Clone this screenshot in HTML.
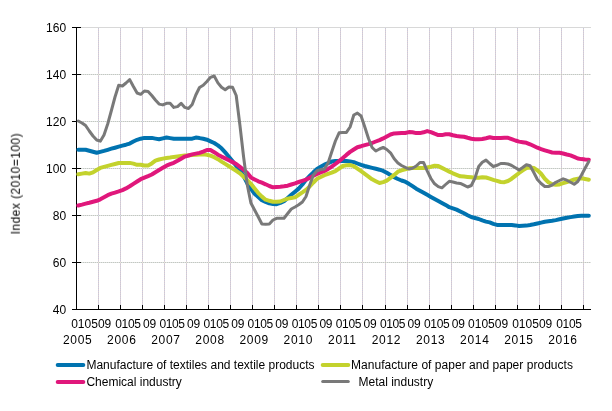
<!DOCTYPE html>
<html lang="en"><head><meta charset="utf-8"><title>Index (2010=100)</title>
<style>html,body{margin:0;padding:0;background:#fff}body{width:612px;height:411px;overflow:hidden}</style></head>
<body>
<svg width="612" height="411" viewBox="0 0 612 411" style="display:block">
<rect width="612" height="411" fill="#fff"/>
<g shape-rendering="crispEdges" fill="none">
<line x1="98.5" y1="28" x2="98.5" y2="305" stroke="#dfd0d0"/>
<line x1="98.5" y1="28" x2="98.5" y2="305" stroke="#c8c8dc" stroke-dasharray="1 1"/>
<line x1="120.5" y1="28" x2="120.5" y2="305" stroke="#dfd0d0"/>
<line x1="120.5" y1="28" x2="120.5" y2="305" stroke="#c8c8dc" stroke-dasharray="1 1"/>
<line x1="142.5" y1="28" x2="142.5" y2="305" stroke="#dfd0d0"/>
<line x1="142.5" y1="28" x2="142.5" y2="305" stroke="#c8c8dc" stroke-dasharray="1 1"/>
<line x1="164.5" y1="28" x2="164.5" y2="305" stroke="#dfd0d0"/>
<line x1="164.5" y1="28" x2="164.5" y2="305" stroke="#c8c8dc" stroke-dasharray="1 1"/>
<line x1="186.5" y1="28" x2="186.5" y2="305" stroke="#dfd0d0"/>
<line x1="186.5" y1="28" x2="186.5" y2="305" stroke="#c8c8dc" stroke-dasharray="1 1"/>
<line x1="208.5" y1="28" x2="208.5" y2="305" stroke="#dfd0d0"/>
<line x1="208.5" y1="28" x2="208.5" y2="305" stroke="#c8c8dc" stroke-dasharray="1 1"/>
<line x1="230.5" y1="28" x2="230.5" y2="305" stroke="#dfd0d0"/>
<line x1="230.5" y1="28" x2="230.5" y2="305" stroke="#c8c8dc" stroke-dasharray="1 1"/>
<line x1="252.5" y1="28" x2="252.5" y2="305" stroke="#dfd0d0"/>
<line x1="252.5" y1="28" x2="252.5" y2="305" stroke="#c8c8dc" stroke-dasharray="1 1"/>
<line x1="274.5" y1="28" x2="274.5" y2="305" stroke="#dfd0d0"/>
<line x1="274.5" y1="28" x2="274.5" y2="305" stroke="#c8c8dc" stroke-dasharray="1 1"/>
<line x1="296.5" y1="28" x2="296.5" y2="305" stroke="#dfd0d0"/>
<line x1="296.5" y1="28" x2="296.5" y2="305" stroke="#c8c8dc" stroke-dasharray="1 1"/>
<line x1="318.5" y1="28" x2="318.5" y2="305" stroke="#dfd0d0"/>
<line x1="318.5" y1="28" x2="318.5" y2="305" stroke="#c8c8dc" stroke-dasharray="1 1"/>
<line x1="340.5" y1="28" x2="340.5" y2="305" stroke="#dfd0d0"/>
<line x1="340.5" y1="28" x2="340.5" y2="305" stroke="#c8c8dc" stroke-dasharray="1 1"/>
<line x1="362.5" y1="28" x2="362.5" y2="305" stroke="#dfd0d0"/>
<line x1="362.5" y1="28" x2="362.5" y2="305" stroke="#c8c8dc" stroke-dasharray="1 1"/>
<line x1="385.5" y1="28" x2="385.5" y2="305" stroke="#dfd0d0"/>
<line x1="385.5" y1="28" x2="385.5" y2="305" stroke="#c8c8dc" stroke-dasharray="1 1"/>
<line x1="407.5" y1="28" x2="407.5" y2="305" stroke="#dfd0d0"/>
<line x1="407.5" y1="28" x2="407.5" y2="305" stroke="#c8c8dc" stroke-dasharray="1 1"/>
<line x1="429.5" y1="28" x2="429.5" y2="305" stroke="#dfd0d0"/>
<line x1="429.5" y1="28" x2="429.5" y2="305" stroke="#c8c8dc" stroke-dasharray="1 1"/>
<line x1="451.5" y1="28" x2="451.5" y2="305" stroke="#dfd0d0"/>
<line x1="451.5" y1="28" x2="451.5" y2="305" stroke="#c8c8dc" stroke-dasharray="1 1"/>
<line x1="473.5" y1="28" x2="473.5" y2="305" stroke="#dfd0d0"/>
<line x1="473.5" y1="28" x2="473.5" y2="305" stroke="#c8c8dc" stroke-dasharray="1 1"/>
<line x1="495.5" y1="28" x2="495.5" y2="305" stroke="#dfd0d0"/>
<line x1="495.5" y1="28" x2="495.5" y2="305" stroke="#c8c8dc" stroke-dasharray="1 1"/>
<line x1="517.5" y1="28" x2="517.5" y2="305" stroke="#dfd0d0"/>
<line x1="517.5" y1="28" x2="517.5" y2="305" stroke="#c8c8dc" stroke-dasharray="1 1"/>
<line x1="539.5" y1="28" x2="539.5" y2="305" stroke="#dfd0d0"/>
<line x1="539.5" y1="28" x2="539.5" y2="305" stroke="#c8c8dc" stroke-dasharray="1 1"/>
<line x1="561.5" y1="28" x2="561.5" y2="305" stroke="#dfd0d0"/>
<line x1="561.5" y1="28" x2="561.5" y2="305" stroke="#c8c8dc" stroke-dasharray="1 1"/>
<line x1="583.5" y1="28" x2="583.5" y2="305" stroke="#dfd0d0"/>
<line x1="583.5" y1="28" x2="583.5" y2="305" stroke="#c8c8dc" stroke-dasharray="1 1"/>
<line x1="77" y1="27.5" x2="591" y2="27.5" stroke="#d8d8d8"/>
<line x1="77" y1="74.5" x2="591" y2="74.5" stroke="#e0e2e0"/>
<line x1="77" y1="74.5" x2="591" y2="74.5" stroke="#c2c8c2" stroke-dasharray="1 1"/>
<line x1="77" y1="121.5" x2="591" y2="121.5" stroke="#e0e2e0"/>
<line x1="77" y1="121.5" x2="591" y2="121.5" stroke="#c2c8c2" stroke-dasharray="1 1"/>
<line x1="77" y1="168.5" x2="591" y2="168.5" stroke="#e0e2e0"/>
<line x1="77" y1="168.5" x2="591" y2="168.5" stroke="#c2c8c2" stroke-dasharray="1 1"/>
<line x1="77" y1="215.5" x2="591" y2="215.5" stroke="#e0e2e0"/>
<line x1="77" y1="215.5" x2="591" y2="215.5" stroke="#c2c8c2" stroke-dasharray="1 1"/>
<line x1="77" y1="262.5" x2="591" y2="262.5" stroke="#e0e2e0"/>
<line x1="77" y1="262.5" x2="591" y2="262.5" stroke="#c2c8c2" stroke-dasharray="1 1"/>
<line x1="76.5" y1="27" x2="76.5" y2="310" stroke="#000"/>
<line x1="72" y1="309.5" x2="591" y2="309.5" stroke="#000"/>
<line x1="72" y1="27.5" x2="81" y2="27.5" stroke="#000"/>
<line x1="72" y1="74.5" x2="81" y2="74.5" stroke="#000"/>
<line x1="72" y1="121.5" x2="81" y2="121.5" stroke="#000"/>
<line x1="72" y1="168.5" x2="81" y2="168.5" stroke="#000"/>
<line x1="72" y1="215.5" x2="81" y2="215.5" stroke="#000"/>
<line x1="72" y1="262.5" x2="81" y2="262.5" stroke="#000"/>
<line x1="98.5" y1="305" x2="98.5" y2="310" stroke="#000"/>
<line x1="120.5" y1="305" x2="120.5" y2="310" stroke="#000"/>
<line x1="142.5" y1="305" x2="142.5" y2="310" stroke="#000"/>
<line x1="164.5" y1="305" x2="164.5" y2="310" stroke="#000"/>
<line x1="186.5" y1="305" x2="186.5" y2="310" stroke="#000"/>
<line x1="208.5" y1="305" x2="208.5" y2="310" stroke="#000"/>
<line x1="230.5" y1="305" x2="230.5" y2="310" stroke="#000"/>
<line x1="252.5" y1="305" x2="252.5" y2="310" stroke="#000"/>
<line x1="274.5" y1="305" x2="274.5" y2="310" stroke="#000"/>
<line x1="296.5" y1="305" x2="296.5" y2="310" stroke="#000"/>
<line x1="318.5" y1="305" x2="318.5" y2="310" stroke="#000"/>
<line x1="340.5" y1="305" x2="340.5" y2="310" stroke="#000"/>
<line x1="362.5" y1="305" x2="362.5" y2="310" stroke="#000"/>
<line x1="385.5" y1="305" x2="385.5" y2="310" stroke="#000"/>
<line x1="407.5" y1="305" x2="407.5" y2="310" stroke="#000"/>
<line x1="429.5" y1="305" x2="429.5" y2="310" stroke="#000"/>
<line x1="451.5" y1="305" x2="451.5" y2="310" stroke="#000"/>
<line x1="473.5" y1="305" x2="473.5" y2="310" stroke="#000"/>
<line x1="495.5" y1="305" x2="495.5" y2="310" stroke="#000"/>
<line x1="517.5" y1="305" x2="517.5" y2="310" stroke="#000"/>
<line x1="539.5" y1="305" x2="539.5" y2="310" stroke="#000"/>
<line x1="561.5" y1="305" x2="561.5" y2="310" stroke="#000"/>
<line x1="583.5" y1="305" x2="583.5" y2="310" stroke="#000"/>
</g>
<polyline points="78.3,149.8 82.0,149.8 85.6,149.8 89.3,150.8 93.0,151.8 96.7,152.8 100.3,151.9 104.0,150.9 107.7,149.8 111.4,148.7 115.0,147.7 118.7,146.6 122.4,145.6 126.0,144.7 129.7,143.6 133.4,141.5 137.1,139.8 140.7,138.7 144.4,137.9 148.1,137.9 151.8,137.9 155.4,138.6 159.1,139.3 162.8,138.4 166.5,137.5 170.1,138.1 173.8,138.7 177.5,138.7 181.1,138.7 184.8,138.7 188.5,138.7 192.2,138.7 195.8,137.6 199.5,138.1 203.2,138.7 206.9,139.7 210.5,141.3 214.2,143.0 217.9,145.4 221.5,148.3 225.2,152.4 228.9,156.7 232.6,161.2 236.2,165.8 239.9,169.9 243.6,176.1 247.3,183.4 250.9,188.8 254.6,193.7 258.3,197.0 261.9,200.3 265.6,202.0 269.3,203.4 273.0,204.0 276.6,204.2 280.3,202.9 284.0,201.2 287.7,198.0 291.3,194.8 295.0,191.7 298.7,188.6 302.4,184.5 306.0,179.8 309.7,176.0 313.4,172.3 317.0,169.0 320.7,166.8 324.4,164.6 328.1,163.1 331.7,161.6 335.4,161.1 339.1,161.0 342.8,160.9 346.4,160.9 350.1,161.4 353.8,162.1 357.4,163.5 361.1,164.9 364.8,166.0 368.5,167.0 372.1,167.9 375.8,168.8 379.5,169.7 383.2,170.9 386.8,172.8 390.5,174.9 394.2,177.2 397.9,179.0 401.5,180.5 405.2,181.7 408.9,183.8 412.5,186.2 416.2,188.7 419.9,190.7 423.6,192.8 427.2,194.8 430.9,196.9 434.6,198.9 438.3,200.9 441.9,202.9 445.6,204.9 449.3,207.2 452.9,208.3 456.6,209.6 460.3,211.5 464.0,213.3 467.6,215.2 471.3,217.0 475.0,218.0 478.7,219.0 482.3,220.4 486.0,221.6 489.7,222.4 493.3,223.8 497.0,224.9 500.7,224.9 504.4,224.9 508.0,224.9 511.7,224.9 515.4,225.4 519.1,226.0 522.7,225.8 526.4,225.6 530.1,225.0 533.8,224.3 537.4,223.5 541.1,222.6 544.8,221.7 548.4,221.2 552.1,220.7 555.8,220.1 559.5,219.3 563.1,218.5 566.8,217.7 570.5,217.1 574.2,216.5 577.8,216.0 581.5,215.8 585.2,215.8 588.8,215.8" fill="none" stroke="#0073b0" stroke-width="4" stroke-linejoin="round" stroke-linecap="round"/>
<polyline points="78.3,174.3 82.0,173.6 85.6,173.0 89.3,173.6 93.0,172.4 96.7,170.0 100.3,167.9 104.0,166.9 107.7,165.9 111.4,164.9 115.0,164.0 118.7,163.0 122.4,162.9 126.0,162.9 129.7,162.9 133.4,163.6 137.1,164.8 140.7,164.8 144.4,165.5 148.1,165.4 151.8,163.4 155.4,160.7 159.1,159.5 162.8,158.6 166.5,158.0 170.1,157.5 173.8,156.9 177.5,156.4 181.1,155.9 184.8,155.5 188.5,155.3 192.2,155.0 195.8,154.7 199.5,154.4 203.2,154.3 206.9,154.7 210.5,155.6 214.2,157.2 217.9,159.2 221.5,161.6 225.2,163.9 228.9,166.2 232.6,168.5 236.2,170.8 239.9,173.3 243.6,176.7 247.3,180.1 250.9,183.8 254.6,188.4 258.3,193.1 261.9,196.6 265.6,199.7 269.3,200.8 273.0,201.8 276.6,201.8 280.3,201.5 284.0,200.0 287.7,198.6 291.3,198.0 295.0,197.4 298.7,194.8 302.4,192.4 306.0,189.9 309.7,186.5 313.4,182.5 317.0,178.8 320.7,177.0 324.4,175.2 328.1,173.9 331.7,172.7 335.4,171.1 339.1,168.5 342.8,166.0 346.4,165.3 350.1,165.1 353.8,166.1 357.4,168.6 361.1,171.2 364.8,173.9 368.5,176.6 372.1,179.3 375.8,181.2 379.5,183.0 383.2,182.1 386.8,180.6 390.5,177.9 394.2,174.9 397.9,171.7 401.5,170.4 405.2,169.4 408.9,168.3 412.5,168.1 416.2,168.1 419.9,168.1 423.6,168.1 427.2,167.5 430.9,166.7 434.6,165.8 438.3,166.1 441.9,167.9 445.6,169.8 449.3,171.6 452.9,173.3 456.6,174.8 460.3,176.3 464.0,176.6 467.6,176.9 471.3,177.2 475.0,177.7 478.7,177.7 482.3,177.3 486.0,177.5 489.7,178.6 493.3,179.8 497.0,180.9 500.7,182.0 504.4,182.2 508.0,181.0 511.7,178.7 515.4,175.9 519.1,173.0 522.7,170.4 526.4,168.0 530.1,167.5 533.8,167.9 537.4,170.3 541.1,173.8 544.8,178.7 548.4,182.2 552.1,184.3 555.8,184.8 559.5,184.4 563.1,183.2 566.8,182.0 570.5,180.8 574.2,179.5 577.8,178.8 581.5,178.3 585.2,179.0 588.8,179.7" fill="none" stroke="#c3d22d" stroke-width="4" stroke-linejoin="round" stroke-linecap="round"/>
<polyline points="78.3,205.5 82.0,204.6 85.6,203.6 89.3,202.7 93.0,201.7 96.7,200.8 100.3,199.3 104.0,197.3 107.7,195.2 111.4,193.7 115.0,192.6 118.7,191.4 122.4,190.1 126.0,188.4 129.7,186.3 133.4,183.9 137.1,181.5 140.7,179.2 144.4,177.6 148.1,176.1 151.8,174.5 155.4,172.2 159.1,170.0 162.8,167.8 166.5,165.7 170.1,164.2 173.8,162.8 177.5,160.8 181.1,158.7 184.8,156.6 188.5,155.5 192.2,154.4 195.8,153.6 199.5,152.9 203.2,151.6 206.9,150.0 210.5,150.1 214.2,152.2 217.9,154.7 221.5,156.6 225.2,158.4 228.9,160.2 232.6,162.1 236.2,164.0 239.9,166.9 243.6,169.8 247.3,173.1 250.9,177.4 254.6,179.4 258.3,181.3 261.9,182.7 265.6,184.3 269.3,186.0 273.0,187.3 276.6,187.0 280.3,186.8 284.0,186.3 287.7,185.7 291.3,184.5 295.0,183.3 298.7,182.0 302.4,180.8 306.0,179.6 309.7,177.7 313.4,175.8 317.0,174.0 320.7,172.5 324.4,171.0 328.1,168.9 331.7,166.7 335.4,164.0 339.1,161.1 342.8,158.1 346.4,154.9 350.1,151.9 353.8,149.5 357.4,147.2 361.1,146.2 364.8,145.1 368.5,144.1 372.1,143.0 375.8,141.5 379.5,140.1 383.2,138.4 386.8,136.5 390.5,134.5 394.2,133.4 397.9,133.2 401.5,133.1 405.2,133.0 408.9,132.1 412.5,132.3 416.2,133.1 419.9,133.1 423.6,132.3 427.2,131.1 430.9,132.1 434.6,133.7 438.3,135.1 441.9,135.1 445.6,134.2 449.3,134.3 452.9,135.3 456.6,136.0 460.3,136.4 464.0,136.8 467.6,137.8 471.3,138.7 475.0,139.2 478.7,139.2 482.3,139.0 486.0,138.2 489.7,137.3 493.3,138.0 497.0,138.1 500.7,138.0 504.4,137.8 508.0,137.8 511.7,139.1 515.4,140.5 519.1,141.6 522.7,142.2 526.4,142.8 530.1,144.3 533.8,146.0 537.4,147.7 541.1,149.1 544.8,150.3 548.4,151.4 552.1,152.5 555.8,152.7 559.5,152.8 563.1,153.5 566.8,154.5 570.5,155.4 574.2,156.9 577.8,158.5 581.5,159.1 585.2,159.5 588.8,159.7" fill="none" stroke="#e0177b" stroke-width="4" stroke-linejoin="round" stroke-linecap="round"/>
<polyline points="78.3,121.0 82.0,123.0 85.6,125.5 89.3,131.0 93.0,136.0 96.7,140.0 100.3,141.2 104.0,135.0 107.7,124.0 111.4,110.5 115.0,97.0 118.7,85.3 122.4,86.0 126.0,83.0 129.7,79.6 133.4,86.5 137.1,93.0 140.7,94.3 144.4,91.0 148.1,91.4 151.8,95.5 155.4,100.0 159.1,104.1 162.8,104.9 166.5,103.3 170.1,103.3 173.8,107.4 177.5,106.6 181.1,103.3 184.8,107.4 188.5,108.5 192.2,104.5 195.8,95.0 199.5,87.5 203.2,85.3 206.9,81.5 210.5,77.3 214.2,76.0 217.9,82.9 221.5,87.3 225.2,89.7 228.9,87.0 232.6,87.3 236.2,95.5 239.9,125.0 243.6,157.0 247.3,185.0 250.9,203.0 254.6,210.0 258.3,217.0 261.9,224.0 265.6,224.2 269.3,224.0 273.0,220.0 276.6,218.3 280.3,218.2 284.0,218.2 287.7,213.5 291.3,209.0 295.0,207.0 298.7,204.8 302.4,202.0 306.0,196.5 309.7,185.0 313.4,175.0 317.0,170.8 320.7,169.6 324.4,169.0 328.1,163.0 331.7,152.0 335.4,141.0 339.1,132.8 342.8,132.5 346.4,132.4 350.1,127.0 353.8,115.0 357.4,113.1 361.1,116.0 364.8,127.0 368.5,138.5 372.1,147.5 375.8,151.0 379.5,149.0 383.2,147.4 386.8,149.5 390.5,152.8 394.2,158.8 397.9,163.0 401.5,165.5 405.2,167.3 408.9,169.0 412.5,168.2 416.2,166.0 419.9,162.5 423.6,162.6 427.2,170.8 430.9,178.5 434.6,183.8 438.3,186.6 441.9,187.8 445.6,184.5 449.3,181.3 452.9,182.0 456.6,183.0 460.3,183.4 464.0,185.2 467.6,187.0 471.3,185.5 475.0,178.0 478.7,166.5 482.3,162.3 486.0,160.1 489.7,163.5 493.3,166.5 497.0,165.3 500.7,163.5 504.4,163.6 508.0,164.0 511.7,165.5 515.4,167.7 519.1,169.9 522.7,167.5 526.4,164.7 530.1,165.8 533.8,172.5 537.4,179.5 541.1,183.5 544.8,186.5 548.4,186.6 552.1,185.0 555.8,182.3 559.5,180.5 563.1,178.8 566.8,180.2 570.5,182.2 574.2,184.3 577.8,181.5 581.5,175.0 585.2,168.0 588.8,161.5" fill="none" stroke="#797979" stroke-width="3" stroke-linejoin="round" stroke-linecap="round"/>
<g font-family="'Liberation Sans', Arial, sans-serif" font-size="12" fill="#000" opacity="0.999">
<text x="66.1" y="31.8" text-anchor="end">160</text>
<text x="66.1" y="78.8" text-anchor="end">140</text>
<text x="66.1" y="125.8" text-anchor="end">120</text>
<text x="66.1" y="172.8" text-anchor="end">100</text>
<text x="66.1" y="219.8" text-anchor="end">80</text>
<text x="66.1" y="266.8" text-anchor="end">60</text>
<text x="66.1" y="313.8" text-anchor="end">40</text>
<text x="71.2" y="328.3">010509</text>
<text x="77.7" y="344.2" text-anchor="middle" letter-spacing="0.7">2005</text>
<text x="115.3" y="328.3" letter-spacing="-0.35">0105</text>
<text x="143.0" y="328.3" letter-spacing="-0.2">09</text>
<text x="121.8" y="344.2" text-anchor="middle" letter-spacing="0.7">2006</text>
<text x="159.4" y="328.3" letter-spacing="-0.35">0105</text>
<text x="187.1" y="328.3" letter-spacing="-0.2">09</text>
<text x="165.9" y="344.2" text-anchor="middle" letter-spacing="0.7">2007</text>
<text x="203.5" y="328.3" letter-spacing="-0.35">0105</text>
<text x="231.2" y="328.3" letter-spacing="-0.2">09</text>
<text x="210.1" y="344.2" text-anchor="middle" letter-spacing="0.7">2008</text>
<text x="247.6" y="328.3" letter-spacing="-0.35">0105</text>
<text x="275.3" y="328.3" letter-spacing="-0.2">09</text>
<text x="254.2" y="344.2" text-anchor="middle" letter-spacing="0.7">2009</text>
<text x="291.7" y="328.3" letter-spacing="-0.35">0105</text>
<text x="319.4" y="328.3" letter-spacing="-0.2">09</text>
<text x="298.3" y="344.2" text-anchor="middle" letter-spacing="0.7">2010</text>
<text x="335.8" y="328.3" letter-spacing="-0.35">0105</text>
<text x="363.5" y="328.3" letter-spacing="-0.2">09</text>
<text x="342.4" y="344.2" text-anchor="middle" letter-spacing="0.7">2011</text>
<text x="379.9" y="328.3" letter-spacing="-0.35">0105</text>
<text x="407.6" y="328.3" letter-spacing="-0.2">09</text>
<text x="386.5" y="344.2" text-anchor="middle" letter-spacing="0.7">2012</text>
<text x="424.0" y="328.3" letter-spacing="-0.35">0105</text>
<text x="451.7" y="328.3" letter-spacing="-0.2">09</text>
<text x="430.7" y="344.2" text-anchor="middle" letter-spacing="0.7">2013</text>
<text x="468.1" y="328.3">010509</text>
<text x="474.8" y="344.2" text-anchor="middle" letter-spacing="0.7">2014</text>
<text x="512.2" y="328.3">010509</text>
<text x="518.9" y="344.2" text-anchor="middle" letter-spacing="0.7">2015</text>
<text x="556.3" y="328.3" letter-spacing="-0.35">0105</text>
<text x="563.0" y="344.2" text-anchor="middle" letter-spacing="0.7">2016</text>
<text transform="translate(19.8,183.6) rotate(-90)" text-anchor="middle" letter-spacing="0.43">Index (2010=100)</text>
<text x="86.4" y="369">Manufacture of textiles and textile products</text>
<text x="86.4" y="386">Chemical industry</text>
<text x="351" y="369" letter-spacing="0.03">Manufacture of paper and paper products</text>
<text x="358.5" y="386">Metal industry</text>
</g>
<line x1="57.7" y1="365" x2="83.30000000000001" y2="365" stroke="#0073b0" stroke-width="4" stroke-linecap="round"/>
<line x1="57.7" y1="381.9" x2="83.30000000000001" y2="381.9" stroke="#e0177b" stroke-width="4" stroke-linecap="round"/>
<line x1="322.7" y1="365" x2="348.3" y2="365" stroke="#c3d22d" stroke-width="4" stroke-linecap="round"/>
<line x1="322.7" y1="381.6" x2="348.3" y2="381.6" stroke="#797979" stroke-width="3" stroke-linecap="round"/>
</svg>
</body></html>
